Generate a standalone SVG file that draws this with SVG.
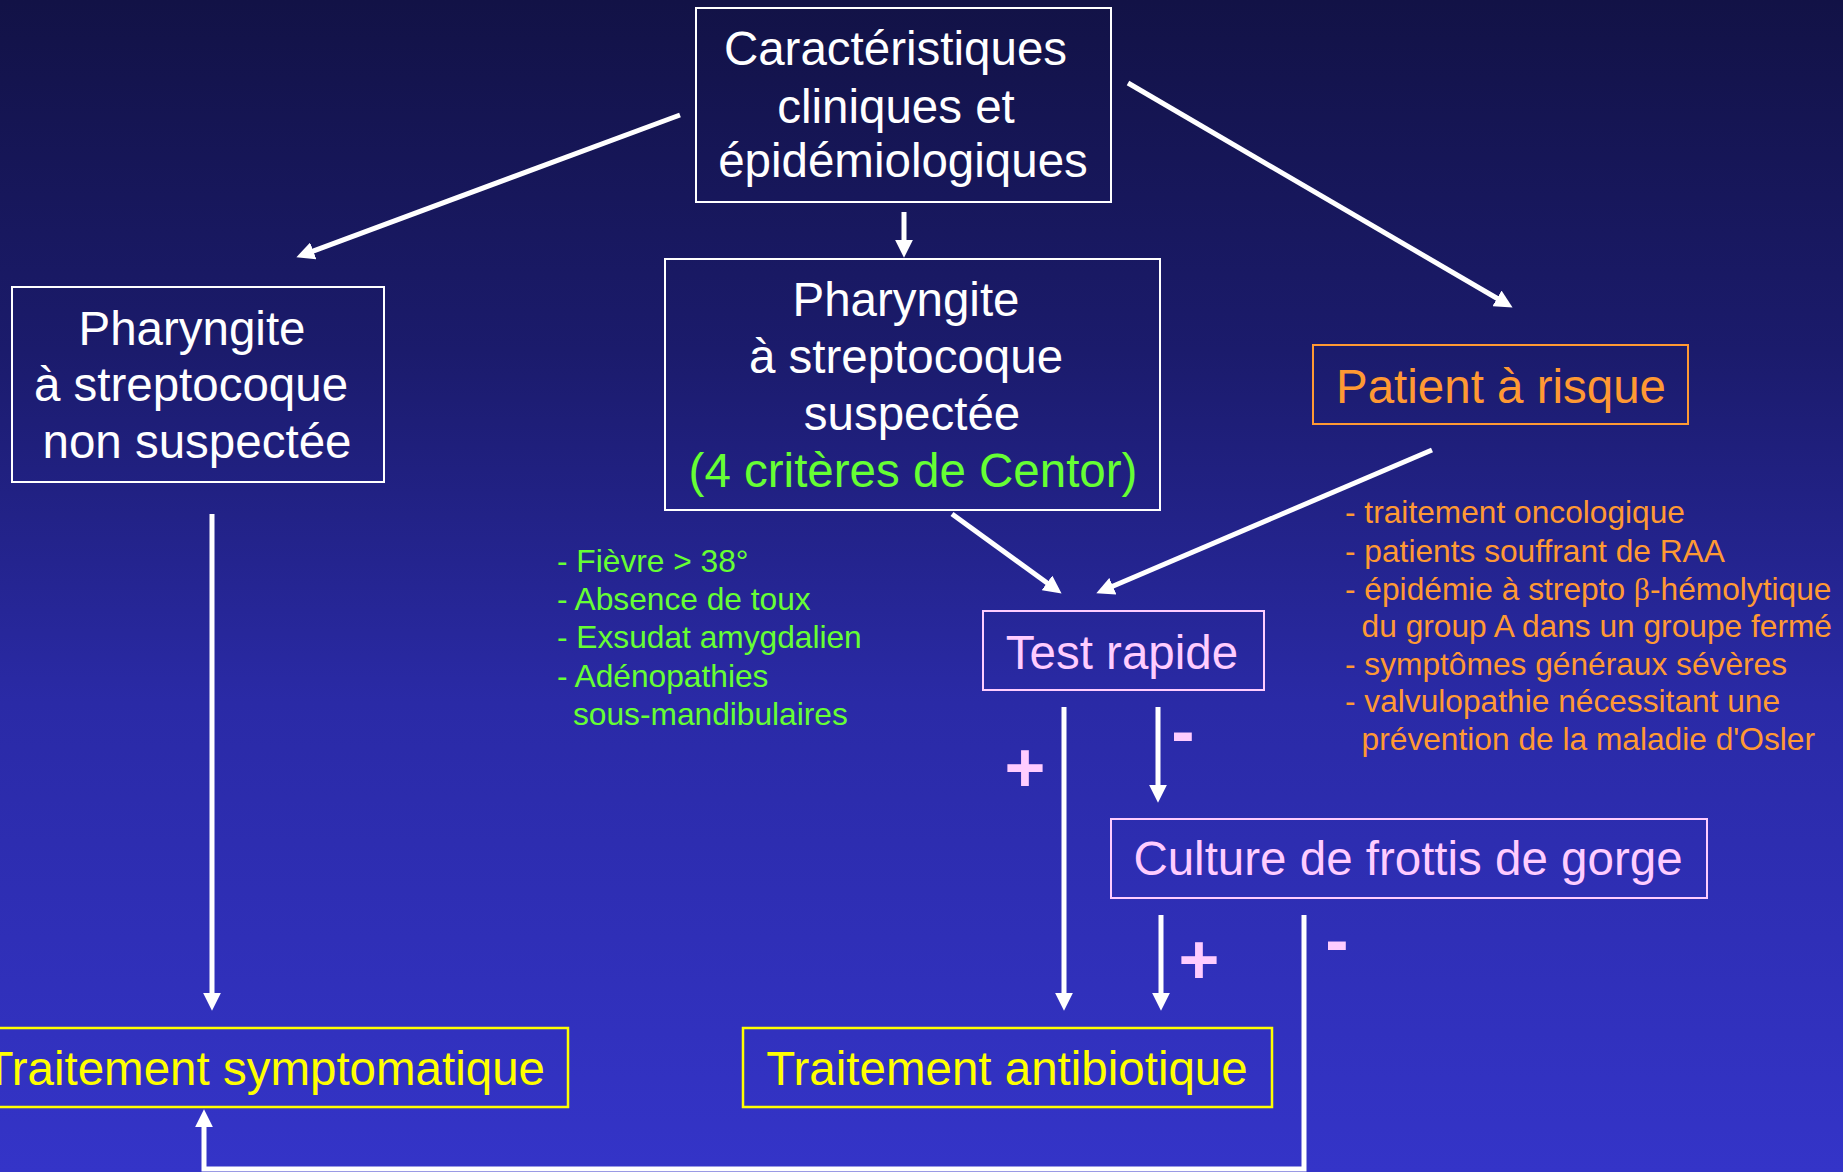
<svg xmlns="http://www.w3.org/2000/svg" width="1843" height="1172" viewBox="0 0 1843 1172">
<defs>
<linearGradient id="bg" x1="0" y1="0" x2="0" y2="1">
<stop offset="0" stop-color="#121246"/>
<stop offset="0.3" stop-color="#1b1b6c"/>
<stop offset="0.6" stop-color="#2a2aa6"/>
<stop offset="1" stop-color="#3434c8"/>
</linearGradient>
<marker id="ah" markerUnits="userSpaceOnUse" markerWidth="18" markerHeight="18" viewBox="0 0 17 17" refX="5" refY="8.5" orient="auto">
<path d="M0,0 L17,8.5 L0,17 z" fill="#ffffff"/>
</marker>
<style>
text{font-family:"Liberation Sans",Arial,sans-serif;}
.big{font-size:47.5px;text-anchor:middle;}
.w{fill:#ffffff;}
.g{fill:#66ff33;}
.o{fill:#ff9933;}
.p{fill:#ffccff;}
.y{fill:#ffff00;}
.list{font-size:31.7px;}
.sign{font-size:70px;font-weight:bold;fill:#ffccff;text-anchor:middle;}
.bw{fill:none;stroke:#ffffff;stroke-width:2;}
.bo{fill:none;stroke:#ff9933;stroke-width:2;}
.bp{fill:none;stroke:#ffccff;stroke-width:2;}
.by{fill:none;stroke:#ffff00;stroke-width:2.5;}
.c{fill:none;stroke:#ffffff;stroke-width:5;marker-end:url(#ah);}
</style>
</defs>
<rect x="0" y="0" width="1843" height="1172" fill="url(#bg)"/>

<g id="connectors">
<line class="c" x1="680" y1="115" x2="308.3" y2="252.8"/>
<line class="c" x1="904" y1="212" x2="904" y2="245"/>
<line class="c" x1="1128" y1="83" x2="1501.6" y2="301"/>
<line class="c" x1="952" y1="514" x2="1051.3" y2="586"/>
<line class="c" x1="1432" y1="450" x2="1108" y2="588.3"/>
<line class="c" x1="212" y1="514" x2="212" y2="998"/>
<line class="c" x1="1064" y1="707" x2="1064" y2="998"/>
<line class="c" x1="1158" y1="707" x2="1158" y2="790"/>
<line class="c" x1="1161" y1="915" x2="1161" y2="998"/>
<polyline class="c" points="1304,915 1304,1169 204,1169 204,1122"/>
<text class="sign" x="1025" y="792">+</text>
<text class="sign" x="1183" y="755">-</text>
<text class="sign" x="1199" y="984">+</text>
<text class="sign" x="1337" y="964">-</text>
</g>

<g id="node-caracteristiques">
<rect class="bw" x="696" y="8" width="415" height="194"/>
<text class="big w" x="895.5" y="65">Caractéristiques</text>
<text class="big w" x="896" y="123">cliniques et</text>
<text class="big w" x="903" y="177">épidémiologiques</text>
</g>

<g id="node-non-suspectee">
<rect class="bw" x="12" y="287" width="372" height="195"/>
<text class="big w" x="192" y="345">Pharyngite</text>
<text class="big w" x="191" y="401">à streptocoque</text>
<text class="big w" x="197" y="458">non suspectée</text>
</g>

<g id="node-suspectee">
<rect class="bw" x="665" y="259" width="495" height="251"/>
<text class="big w" x="906" y="316">Pharyngite</text>
<text class="big w" x="906" y="373">à streptocoque</text>
<text class="big w" x="912" y="430">suspectée</text>
<text class="big g" x="913" y="487">(4 critères de Centor)</text>
</g>

<g id="node-patient-risque">
<rect class="bo" x="1313" y="345" width="375" height="79"/>
<text class="big o" x="1501" y="403">Patient à risque</text>
</g>

<g id="criteres-centor">
<text class="list g" x="557" y="572">- Fièvre &gt; 38°</text>
<text class="list g" x="557" y="610">- Absence de toux</text>
<text class="list g" x="557" y="648">- Exsudat amygdalien</text>
<text class="list g" x="557" y="687">- Adénopathies</text>
<text class="list g" x="573" y="725">sous-mandibulaires</text>
</g>

<g id="facteurs-risque">
<text class="list o" x="1345" y="523">- traitement oncologique</text>
<text class="list o" x="1345" y="562">- patients souffrant de RAA</text>
<text class="list o" x="1345" y="600">- épidémie à strepto <tspan font-family="'Liberation Serif',serif">β</tspan>-hémolytique</text>
<text class="list o" x="1361.6" y="637">du group A dans un groupe fermé</text>
<text class="list o" x="1345" y="675">- symptômes généraux sévères</text>
<text class="list o" x="1345" y="712">- valvulopathie nécessitant une</text>
<text class="list o" x="1361.6" y="750">prévention de la maladie d'Osler</text>
</g>

<g id="node-test-rapide">
<rect class="bp" x="983" y="611" width="281" height="79"/>
<text class="big p" x="1122" y="669">Test rapide</text>
</g>

<g id="node-culture">
<rect class="bp" x="1111" y="819" width="596" height="79"/>
<text class="big p" x="1408" y="875">Culture de frottis de gorge</text>
</g>

<g id="node-traitement-symptomatique">
<rect class="by" x="-10" y="1028" width="578" height="79"/>
<text class="big y" x="545" y="1085" style="text-anchor:end">Traitement symptomatique</text>
</g>

<g id="node-traitement-antibiotique">
<rect class="by" x="743" y="1028" width="529" height="79"/>
<text class="big y" x="1007" y="1085">Traitement antibiotique</text>
</g>
</svg>
